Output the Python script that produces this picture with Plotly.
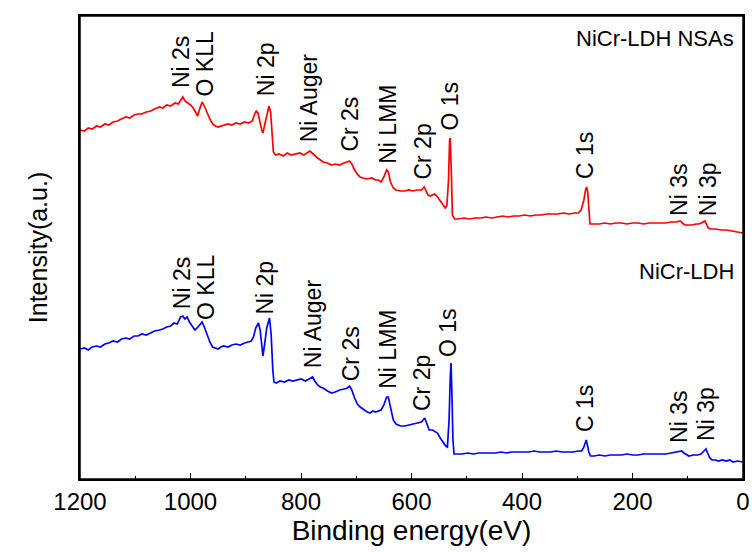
import plotly.graph_objects as go

# ---- data (binding energy in eV, intensity in arbitrary units) ----
energy_nsa = [1200,1192,1185,1178,1170,1163,1155,1148,1140,1132,1125,1117,1110,1102,1095,1088,1080,1072,1065,1056,
              1050,1043,1036,1028,1022,1018,1014,1010,1005,1000,995,990,987,984,979,975,970,965,960,955,
              950,945,940,932,925,918,910,902,895,888,884,881,878,875,871,869,866,862,858,855,
              852,850,846,840,832,825,818,810,802,795,788,784,780,775,770,765,760,752,745,738,
              730,722,716,712,708,703,697,693,688,680,672,665,660,655,650,645,642,638,633,628,
              620,612,605,598,590,582,577,574,570,566,562,558,554,548,543,539,536,533,531,530,
              528,526,522,515,505,495,485,475,465,455,445,435,425,415,405,395,385,375,365,355,
              345,335,325,315,305,298,293,288,285,283,281,279,277,270,260,250,240,230,220,210,
              200,190,180,170,160,150,140,130,120,116,113,110,105,100,92,85,80,75,72,69,
              66,63,58,50,40,30,20,10,0]
intensity_nsa = [349,348,351,350,353,352,355,354,357,358,360,362,361,364,365,365,367,368,370,372,
                 371,374,373,376,375,379,382,378,376,374,371,366,363,369,377,373,366,360,355,353,
                 352,353,354,355,354,356,355,357,356,358,365,368,366,358,349,346,354,366,373,367,
                 344,327,324,325,323,326,324,325,326,324,327,328,326,323,321,319,317,316,314,315,
                 314,316,317,318,315,309,304,302,301,300,301,299,299,297,302,309,307,297,291,289,
                 288,288,289,288,289,289,292,288,284,283,284,285,283,278,274,271,273,299,339,341,
                 309,264,260,260,261,260,261,261,262,261,262,263,262,263,263,264,263,264,264,265,
                 265,265,266,265,266,266,269,279,289,292,287,267,255,255,255,256,255,256,256,255,
                 256,256,255,256,256,256,256,257,257,258,258,256,254,254,254,255,255,256,257,258,
                 255,251,250,250,249,249,248,247,246]

energy_ldh = [1200,1192,1185,1178,1170,1163,1155,1148,1140,1132,1125,1117,1110,1102,1095,1088,1080,1072,1065,1056,
              1050,1043,1036,1030,1024,1018,1014,1010,1006,1002,996,992,988,983,979,975,970,965,960,955,
              950,945,940,932,925,918,910,902,895,890,886,882,877,874,871,869,866,862,857,854,
              851,849,845,838,830,822,815,808,800,792,785,779,775,770,765,760,752,745,738,730,
              722,716,712,708,703,698,693,686,680,675,670,665,660,655,650,645,642,638,633,628,
              620,612,604,596,588,582,576,572,568,562,557,553,548,543,538,535,532,530,528.5,527,
              525,523,518,508,498,488,478,468,458,448,438,428,418,408,398,388,378,368,358,348,
              338,328,318,308,298,292,288,285,283.8,282,279,276,270,260,250,240,230,220,210,200,
              190,180,170,160,150,140,130,120,114,111,107,102,98,90,82,76,72,69,67,64,
              60,56,50,44,38,30,24,18,10,0]
intensity_ldh = [130,131,129,132,133,132,135,136,138,137,140,141,140,143,143,145,144,146,148,149,
                 150,152,153,156,155,162,163,160,162,157,152,149,151,155,157,152,144,137,132,131,
                 130,132,133,132,134,135,134,136,137,138,142,151,156,149,134,123,134,151,161,144,
                 109,97,96,98,97,99,98,99,100,98,100,102,98,94,92,91,88,86,87,89,
                 90,91,93,89,81,75,72,69,67,66,68,67,68,69,74,82,82,71,59,55,
                 53,53,54,55,56,57,61,54,49,49,47,46,41,37,33,32,59,99,116,89,
                 39,25,25,25,26,25,26,26,26,26,27,26,27,27,27,27,28,27,27,27,
                 28,27,27,27,28,28,32,38,39,35,27,23,23,24,23,24,24,24,25,24,
                 24,25,25,25,25,25,26,27,28,28,26,24,23,24,24,25,27,29,30,26,
                 21,19,19,18,19,18,19,17,18,17]

peak_names = ["Ni 2s", "O KLL", "Ni 2p", "Ni Auger", "Cr 2s", "Ni LMM", "Cr 2p", "O 1s", "C 1s", "Ni 3s", "Ni 3p"]
label_energy_nsa = [1017, 973, 863, 785, 712, 643, 580, 531, 286, 116, 63]
label_level_nsa = [417, 415, 410, 381, 355, 355, 327, 373, 324, 289, 290]
label_energy_ldh = [1015, 972, 866, 778, 709, 643, 581, 534, 286, 116, 67]
label_level_ldh = [196, 192, 191, 155, 125, 130, 96, 147, 71, 62, 65]

x_ticks = [1200, 1000, 800, 600, 400, 200, 0]

FONT = "Arial, 'Liberation Sans', sans-serif"

fig = go.Figure()
fig.add_trace(go.Scatter(x=energy_nsa, y=intensity_nsa, mode="lines",
                         line=dict(color="#ff0000", width=1.7), showlegend=False))
fig.add_trace(go.Scatter(x=energy_ldh, y=intensity_ldh, mode="lines",
                         line=dict(color="#0000ff", width=1.7), showlegend=False))

annotations = []
for names, xs, ys in [(peak_names, label_energy_nsa, label_level_nsa),
                      (peak_names, label_energy_ldh, label_level_ldh)]:
    for n, xv, yv in zip(names, xs, ys):
        annotations.append(dict(x=xv, y=yv, xref="x", yref="y", text=n, showarrow=False,
                                textangle=-90, xanchor="center", yanchor="middle",
                                font=dict(family=FONT, size=23, color="black")))
annotations.append(dict(x=1, y=441, xref="paper", yref="y", text="NiCr-LDH NSAs", showarrow=False,
                        xanchor="right", yanchor="middle", xshift=-7,
                        font=dict(family=FONT, size=22, color="black")))
annotations.append(dict(x=1, y=207.5, xref="paper", yref="y", text="NiCr-LDH", showarrow=False,
                        xanchor="right", yanchor="middle", xshift=-7,
                        font=dict(family=FONT, size=22, color="black")))

fig.update_layout(
    width=752, height=552,
    margin=dict(l=80, r=9, t=16, b=73),
    paper_bgcolor="white", plot_bgcolor="white",
    font=dict(family=FONT, color="black"),
    annotations=annotations,
    shapes=[dict(type="rect", xref="paper", yref="paper", x0=0, x1=1, y0=0, y1=1,
                 line=dict(color="black", width=1.5), layer="above")],
    xaxis=dict(range=[1200, 0], tickvals=x_ticks, ticktext=[str(v) for v in x_ticks],
               ticks="inside", ticklen=6, tickwidth=1.2, tickcolor="black",
               minor=dict(dtick=100, ticks="inside", ticklen=3.5, tickwidth=1.2, tickcolor="black"),
               showline=True, linecolor="black", linewidth=1.5, mirror=True,
               showgrid=False, zeroline=False, automargin=False,
               tickfont=dict(family=FONT, size=24, color="black"),
               title=dict(text="Binding energy(eV)", font=dict(family=FONT, size=28, color="black"),
                          standoff=2)),
    yaxis=dict(range=[0, 463], showticklabels=False, ticks="",
               showline=True, linecolor="black", linewidth=1.5, mirror=True,
               showgrid=False, zeroline=False, automargin=False,
               title=dict(text="Intensity(a.u.)", font=dict(family=FONT, size=25, color="black"),
                          standoff=24)),
)

# remove the default page margin and scrollbars so the figure fills the window exactly
fig.write_html("out.html", config={"displayModeBar": False},
               post_script="document.body.style.margin='0';document.body.style.overflow='hidden';"
                           "document.documentElement.style.overflow='hidden';")
